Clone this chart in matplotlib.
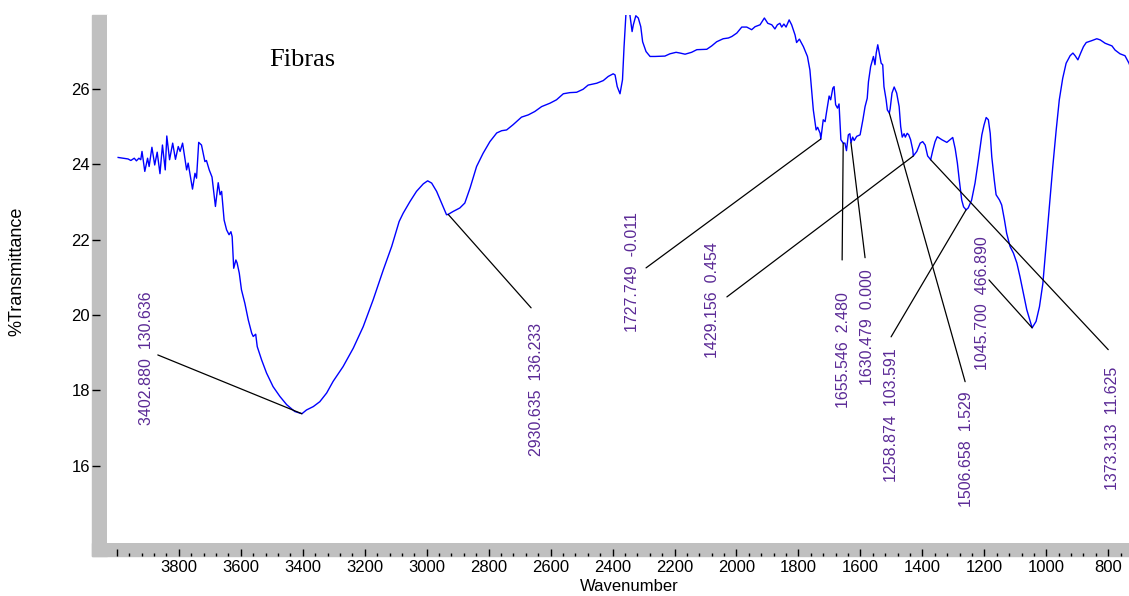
"""FTIR spectrum of the fibre sample (Fibras) with labelled peaks."""
import matplotlib.pyplot as plt
from matplotlib.patches import Rectangle
from matplotlib.ticker import MultipleLocator, FixedLocator, FuncFormatter

# Spectrum (cm-1, %T)
wavenumber = [
    3996, 3980, 3964, 3955, 3944, 3937, 3929, 3923, 3919, 3910, 3901, 3896,
    3887, 3878, 3870, 3861, 3853, 3844, 3839, 3830, 3820, 3811, 3802, 3796,
    3788, 3775, 3770, 3756, 3748, 3743, 3736, 3727, 3716, 3711, 3702, 3693,
    3682, 3673, 3667, 3662, 3654, 3646, 3638, 3632, 3628, 3623, 3616, 3612,
    3605, 3598, 3587, 3576, 3565, 3560, 3552, 3547, 3533, 3517, 3496, 3474,
    3452, 3426, 3402.88, 3388, 3366, 3345, 3323, 3302, 3270, 3237, 3205, 3173,
    3140, 3113, 3089, 3076, 3054, 3033, 3011, 2997, 2984, 2968, 2952, 2936,
    2930.635, 2914, 2893, 2877, 2860, 2839, 2818, 2796, 2774, 2758, 2742, 2721,
    2694, 2672, 2651, 2629, 2602, 2581, 2559, 2538, 2516, 2495, 2479, 2451,
    2430, 2414, 2398, 2392, 2385, 2376, 2368, 2363, 2357, 2352, 2344, 2337,
    2333, 2325, 2317, 2309, 2303, 2292, 2279, 2263, 2231, 2215, 2195, 2182,
    2166, 2145, 2128, 2096, 2080, 2064, 2043, 2026, 2015, 1999, 1983, 1967,
    1951, 1940, 1924, 1910, 1899, 1886, 1876, 1868, 1860, 1854, 1847, 1840,
    1830, 1822, 1811, 1806, 1797, 1784, 1771, 1763, 1756, 1752, 1743, 1738,
    1730, 1727.749, 1720, 1714, 1709, 1701, 1696, 1689, 1685, 1680, 1674, 1669,
    1663, 1655.546, 1650, 1645, 1639, 1634, 1630.479, 1625, 1620, 1612, 1601,
    1592, 1585, 1578, 1574, 1567, 1558, 1553, 1549, 1544, 1539, 1533, 1528,
    1524, 1517, 1513, 1506.658, 1504, 1498, 1491, 1483, 1475, 1470, 1465, 1459,
    1455, 1449, 1444, 1438, 1431, 1429.156, 1418, 1407, 1399, 1391, 1383,
    1373.313, 1366, 1359, 1352, 1337, 1321, 1308, 1302, 1294, 1287, 1281, 1273,
    1267, 1258.874, 1252, 1241, 1230, 1219, 1208, 1201, 1194, 1187, 1181, 1176,
    1168, 1162, 1151, 1144, 1135, 1128, 1117, 1106, 1095, 1085, 1074, 1063,
    1052, 1045.7, 1033, 1022, 1011, 1001, 990, 979, 968, 958, 947, 936, 923,
    914, 907, 898, 889, 880, 871, 853, 837, 826, 810, 788, 778, 762, 746, 733,
    720,
]
transmittance = [
    24.18, 24.16, 24.14, 24.10, 24.16, 24.09, 24.16, 24.12, 24.34, 23.81, 24.16, 23.94,
    24.45, 23.98, 24.32, 23.75, 24.51, 23.85, 24.75, 24.12, 24.56, 24.13, 24.47, 24.34,
    24.56, 23.85, 24.03, 23.34, 23.76, 23.63, 24.58, 24.51, 24.07, 24.10, 23.85, 23.66,
    22.88, 23.51, 23.19, 23.28, 22.52, 22.26, 22.13, 22.21, 22.08, 21.24, 21.46, 21.38,
    21.11, 20.67, 20.31, 19.87, 19.52, 19.43, 19.49, 19.16, 18.81, 18.46, 18.10, 17.84,
    17.62, 17.44, 17.38, 17.48, 17.57, 17.70, 17.93, 18.24, 18.63, 19.12, 19.69, 20.40,
    21.20, 21.82, 22.48, 22.70, 23.01, 23.28, 23.48, 23.56, 23.50, 23.28, 22.97, 22.66,
    22.67, 22.75, 22.84, 22.97, 23.37, 23.94, 24.29, 24.60, 24.83, 24.89, 24.91, 25.05,
    25.25, 25.31, 25.40, 25.53, 25.62, 25.71, 25.87, 25.90, 25.91, 25.99, 26.10, 26.15,
    26.22, 26.33, 26.40, 26.37, 26.06, 25.87, 26.24, 27.11, 27.97, 28.30, 27.96, 27.52,
    27.70, 27.94, 27.88, 27.65, 27.25, 26.99, 26.86, 26.86, 26.87, 26.93, 26.97, 26.95,
    26.92, 26.97, 27.04, 27.05, 27.14, 27.25, 27.33, 27.35, 27.39, 27.48, 27.64, 27.64,
    27.57, 27.65, 27.70, 27.88, 27.74, 27.70, 27.59, 27.70, 27.74, 27.64, 27.72, 27.64,
    27.83, 27.70, 27.43, 27.23, 27.32, 27.12, 26.86, 26.50, 25.84, 25.44, 24.91, 24.98,
    24.82, 24.67, 25.18, 25.13, 25.40, 25.81, 25.71, 26.02, 26.06, 25.58, 25.49, 25.60,
    24.65, 24.56, 24.56, 24.36, 24.78, 24.81, 24.57, 24.72, 24.63, 24.74, 24.78,
    25.18, 25.53, 25.75, 26.19, 26.59, 26.86, 26.64, 26.95, 27.17, 26.95, 26.68, 26.64,
    26.06, 25.71, 25.44, 25.36, 25.47, 25.89, 26.05, 25.89, 25.53, 25.00, 24.72, 24.81,
    24.72, 24.82, 24.78, 24.65, 24.38, 24.22, 24.34, 24.56, 24.60, 24.51, 24.22,
    24.12, 24.38, 24.60, 24.73, 24.65, 24.58, 24.67, 24.71, 24.41, 24.03, 23.59, 23.05,
    22.87, 22.79, 22.84, 23.05, 23.50, 24.12, 24.78, 25.04, 25.24, 25.18, 24.82, 24.20,
    23.59, 23.19, 23.05, 22.92, 22.52, 22.17, 21.82, 21.64, 21.38, 21.02, 20.58, 20.14,
    19.83, 19.66, 19.83, 20.22, 20.84, 21.82, 22.88, 23.94, 24.91, 25.71, 26.28, 26.68, 26.88,
    26.95, 26.88, 26.77, 26.95, 27.12, 27.23, 27.28, 27.33, 27.30, 27.21, 27.14, 27.03, 26.93, 26.88, 26.68,
    26.40,
]

# Labelled peaks
peak_wn = [3402.880, 2930.635, 1727.749, 1429.156, 1655.546,
           1630.479, 1258.874, 1506.658, 1045.700, 1373.313]
peak_t = [17.38, 22.67, 24.67, 24.22, 24.56, 24.57, 22.79, 25.36, 19.66, 24.12]
peak_text = ["3402.880  130.636", "2930.635  136.233", "1727.749  -0.011",
             "1429.156  0.454", "1655.546  2.480", "1630.479  0.000",
             "1258.874  103.591", "1506.658  1.529", "1045.700  466.890",
             "1373.313  11.625"]

# where each leader line starts and where its label sits (data units)
line_start = [(3868, 18.94), (2663, 20.19), (2292, 21.25), (2031, 20.48),
              (1659, 21.46), (1585, 21.52), (1501, 19.42), (1262, 18.23),
              (1185, 20.93), (800, 19.08)]
label_at = [(3903, 17.09), (2644, 16.27), (2337, 19.55), (2079, 18.86),
            (1656, 17.54), (1578, 18.15), (1501, 15.58), (1256, 14.91),
            (1207, 18.55), (787, 15.36)]

plt.rcParams['font.family'] = ['Liberation Sans', 'DejaVu Sans']

W, H = 1129, 596
fig = plt.figure(figsize=(W / 100, H / 100), dpi=100)
ax = fig.add_axes([107 / W, 1 - 543 / H, (W - 107) / W, (543 - 15) / H])

# grey frame bands
fig.add_artist(Rectangle((92 / W, 1 - 556 / H), 15 / W, (556 - 15) / H,
                         transform=fig.transFigure, color='#c0c0c0', zorder=-1))
fig.add_artist(Rectangle((92 / W, 1 - 556 / H), (W - 92) / W, 13 / H,
                         transform=fig.transFigure, color='#c0c0c0', zorder=-1))

ax.plot(wavenumber, transmittance, color='#0000ff', lw=1.0)

for wn, t, txt, (lx, ly), (tx, ty) in zip(peak_wn, peak_t, peak_text,
                                          line_start, label_at):
    ax.annotate('', xy=(wn, t), xytext=(lx, ly),
                arrowprops=dict(arrowstyle='-', color='black', lw=0.9,
                                shrinkA=0, shrinkB=0))
    ax.text(tx, ty, txt, rotation=90, ha='center', va='bottom',
            fontsize=11.5, color='#5b2a96')

ax.text(0.159, 0.903, 'Fibras', transform=ax.transAxes, fontsize=19,
        family='Liberation Serif', va='baseline')

ax.set_xlim(4032, 733)
ax.set_ylim(13.95, 27.96)

for s in ['top', 'right']:
    ax.spines[s].set_visible(False)
ax.spines['left'].set_position(('outward', 10.8))
ax.spines['bottom'].set_position(('outward', 9.4))
ax.spines['left'].set_visible(False)
ax.spines['bottom'].set_visible(False)

ax.yaxis.set_major_locator(FixedLocator([16, 18, 20, 22, 24, 26]))
ax.xaxis.set_major_locator(MultipleLocator(200))
ax.xaxis.set_minor_locator(MultipleLocator(40))
ax.xaxis.set_major_formatter(FuncFormatter(lambda v, p: '' if v >= 4000 else f'{v:.0f}'))

ax.tick_params(axis='y', direction='in', length=5.8, width=1.0, pad=1.5,
               labelsize=12)
ax.tick_params(axis='x', which='major', direction='in', length=5, width=1.0,
               pad=3, labelsize=12)
ax.tick_params(axis='x', which='minor', direction='in', length=2.5, width=1.0)

ax.set_xlabel('Wavenumber', fontsize=12)
ax.set_ylabel('%Transmittance', fontsize=13)
ax.xaxis.set_label_coords(0.511, -0.068)
ax.yaxis.set_label_coords(-0.08, 0.515)

fig.savefig('out.png', dpi=100, facecolor='white')
